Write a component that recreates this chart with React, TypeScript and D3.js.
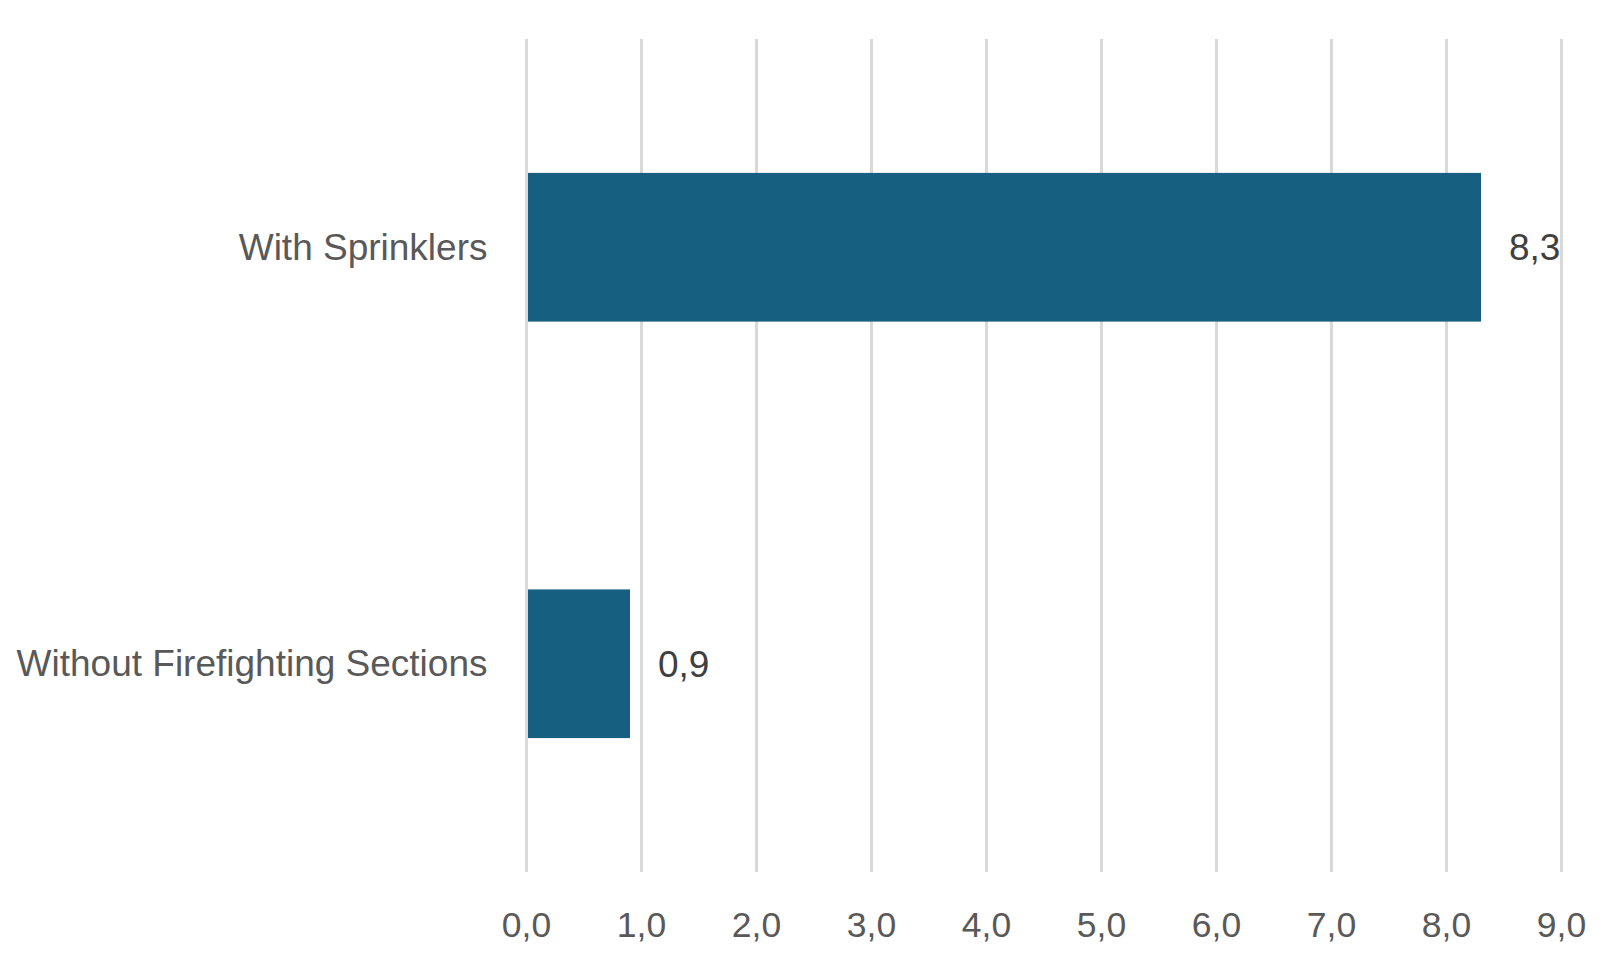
import * as d3 from "d3";
import { useEffect, useRef } from "react";

const categories = ["With Sprinklers", "Without Firefighting Sections"];
const values = [8.3, 0.9];
const tickValues = [0, 1, 2, 3, 4, 5, 6, 7, 8, 9];

const fmt = (v: number) => v.toFixed(1).replace(".", ",");

const BarChart = () => {
  const ref = useRef<SVGSVGElement | null>(null);

  useEffect(() => {
    if (!ref.current) return;

    const svg = d3.select(ref.current);
    svg.selectAll("*").remove();

    const W = 1621;
    const H = 959;
    const margin = { top: 39, right: 59.5, bottom: 87, left: 526.5 };
    const width = W - margin.left - margin.right;
    const height = H - margin.top - margin.bottom;
    const font = "'Liberation Sans', Arial, sans-serif";

    svg.attr("width", W).attr("height", H);

    const g = svg
      .append("g")
      .attr("transform", `translate(${margin.left},${margin.top})`);

    const x = d3.scaleLinear().domain([0, 9]).range([0, width]);
    const y = d3
      .scaleBand()
      .domain(categories)
      .range([0, height])
      .paddingInner(0.643)
      .paddingOuter(0.3215);

    // vertical gridlines
    g.selectAll("line.grid")
      .data(tickValues)
      .enter()
      .append("line")
      .attr("class", "grid")
      .attr("x1", (d) => x(d))
      .attr("x2", (d) => x(d))
      .attr("y1", 0)
      .attr("y2", height)
      .attr("stroke", "#d9d9d9")
      .attr("stroke-width", 3);

    // tick labels
    g.selectAll("text.tick")
      .data(tickValues)
      .enter()
      .append("text")
      .attr("class", "tick")
      .attr("x", (d) => x(d))
      .attr("y", height + 65)
      .attr("text-anchor", "middle")
      .attr("font-family", font)
      .attr("font-size", 35.5)
      .attr("fill", "#595959")
      .text((d) => fmt(d));

    const rows = categories.map((c, i) => ({ c, v: values[i] }));

    g.selectAll("rect.bar")
      .data(rows)
      .enter()
      .append("rect")
      .attr("class", "bar")
      .attr("x", x(0) + 1.5)
      .attr("y", (d) => y(d.c)!)
      .attr("width", (d) => x(d.v) - x(0) - 1.5)
      .attr("height", y.bandwidth())
      .attr("fill", "#175f80");

    // category labels
    g.selectAll("text.cat")
      .data(rows)
      .enter()
      .append("text")
      .attr("class", "cat")
      .attr("x", -39)
      .attr("y", (d) => y(d.c)! + y.bandwidth() / 2 + 12.5)
      .attr("text-anchor", "end")
      .attr("font-family", font)
      .attr("font-size", 37)
      .attr("fill", "#595959")
      .text((d) => d.c);

    // value labels
    g.selectAll("text.val")
      .data(rows)
      .enter()
      .append("text")
      .attr("class", "val")
      .attr("x", (d) => x(d.v) + 28)
      .attr("y", (d) => y(d.c)! + y.bandwidth() / 2 + 13)
      .attr("font-family", font)
      .attr("font-size", 37)
      .attr("fill", "#404040")
      .text((d) => fmt(d.v));
  }, []);

  return (
    <svg
      ref={ref}
      style={{ position: "absolute", left: 0, top: 0, background: "#fff" }}
    ></svg>
  );
};

export default function App() {
  return <BarChart />;
}
